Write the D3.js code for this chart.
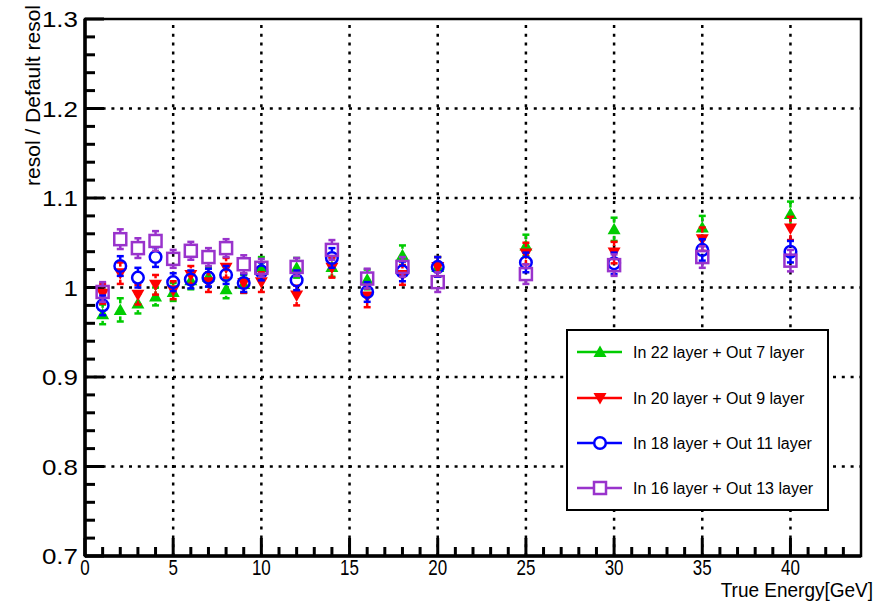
<!DOCTYPE html>
<html>
<head>
<meta charset="utf-8">
<script src="https://cdn.jsdelivr.net/npm/d3@7"></script>
<style>
  body { margin: 0; background: #fff; }
  svg { font-family: "Liberation Sans", Arial, Helvetica, sans-serif; }
</style>
</head>
<body>
<svg id="chart"></svg>
<script>
// energies (GeV)
let energies = [1, 2, 3, 4, 5, 6, 7, 8, 9, 10, 12, 14, 16, 18, 20, 25, 30, 35, 40];

// resol / default resol for each layer configuration
let in22 = [0.970, 0.975, 0.982, 0.990, 0.995, 1.008, 1.012, 0.998, 1.004, 1.023, 1.022, 1.023, 1.009, 1.036, 1.023, 1.047, 1.065, 1.067, 1.082];
let in20 = [0.993, 1.016, 0.992, 1.003, 0.997, 1.014, 1.006, 1.022, 1.005, 1.006, 0.991, 1.022, 0.990, 1.014, 1.023, 1.038, 1.039, 1.054, 1.066];
let in18 = [0.980, 1.024, 1.011, 1.034, 1.006, 1.009, 1.011, 1.014, 1.005, 1.018, 1.008, 1.033, 0.995, 1.018, 1.023, 1.028, 1.027, 1.042, 1.040];
let in16 = [0.995, 1.054, 1.044, 1.052, 1.032, 1.041, 1.034, 1.044, 1.026, 1.022, 1.023, 1.042, 1.010, 1.023, 1.006, 1.015, 1.025, 1.034, 1.030];

// errors
let err22 = [0.011, 0.013, 0.011, 0.010, 0.010, 0.010, 0.011, 0.010, 0.010, 0.011, 0.011, 0.011, 0.011, 0.011, 0.011, 0.012, 0.013, 0.013, 0.014];
let err20 = [0.011, 0.012, 0.011, 0.011, 0.010, 0.010, 0.011, 0.011, 0.011, 0.011, 0.011, 0.011, 0.012, 0.011, 0.011, 0.012, 0.012, 0.013, 0.013];
let err18 = [0.011, 0.011, 0.011, 0.011, 0.010, 0.010, 0.010, 0.010, 0.010, 0.010, 0.011, 0.011, 0.011, 0.011, 0.011, 0.011, 0.012, 0.012, 0.012];
let err16 = [0.011, 0.011, 0.011, 0.011, 0.010, 0.010, 0.010, 0.010, 0.010, 0.010, 0.010, 0.011, 0.011, 0.011, 0.011, 0.011, 0.012, 0.012, 0.012];

let names = ["In 22 layer + Out 7 layer", "In 20 layer + Out 9 layer", "In 18 layer + Out 11 layer", "In 16 layer + Out 13 layer"];
let colors = ["#00cc00", "#ff0000", "#0000ff", "#9933cc"];
let shapes = ["up", "down", "circle", "square"];

let xTicks = [0, 5, 10, 15, 20, 25, 30, 35, 40];
let yTicks = [0.7, 0.8, 0.9, 1.0, 1.1, 1.2, 1.3];

function makeChart() {
    let w = 879;
    let h = 603;
    let left = 85, right = 861, top = 19, bottom = 556;

    let svg = d3.select("#chart")
        .attr("width", w)
        .attr("height", h);

    let x = d3.scaleLinear().domain([0, 44]).range([left, right]);
    let y = d3.scaleLinear().domain([0.7, 1.3]).range([bottom, top]);

    // grid
    let grid = svg.append("g")
        .attr("stroke", "black")
        .attr("stroke-width", 2.5)
        .attr("stroke-dasharray", "3,5.8");
    grid.selectAll("line.vx")
        .data(xTicks.slice(1))
        .enter().append("line")
            .attr("x1", d => x(d)).attr("x2", d => x(d))
            .attr("y1", bottom).attr("y2", top);
    grid.selectAll("line.hy")
        .data(yTicks.slice(1, -1))
        .enter().append("line")
            .attr("x1", left).attr("x2", right)
            .attr("y1", d => y(d)).attr("y2", d => y(d));

    // frame
    svg.append("rect")
        .attr("x", left).attr("y", top)
        .attr("width", right - left).attr("height", bottom - top)
        .attr("fill", "none")
        .attr("stroke", "black")
        .attr("stroke-width", 2.5);

    // ticks (inside, ROOT style)
    let ticks = svg.append("g").attr("stroke", "black").attr("stroke-width", 3);
    ticks.selectAll("line.xt")
        .data(d3.range(0, 44))
        .enter().append("line")
            .attr("x1", d => x(d)).attr("x2", d => x(d))
            .attr("y1", bottom).attr("y2", d => bottom - (d % 5 === 0 ? 18 : 9));
    ticks.selectAll("line.yt")
        .data(d3.range(0, 31))
        .enter().append("line")
            .attr("y1", d => y(0.7 + d * 0.02)).attr("y2", d => y(0.7 + d * 0.02))
            .attr("x1", left).attr("x2", d => left + (d % 5 === 0 ? 19 : 10));
    svg.append("line")
        .attr("x1", left).attr("x2", left).attr("y1", top).attr("y2", bottom)
        .attr("stroke", "black").attr("stroke-width", 3.5);
    svg.append("line")
        .attr("x1", left).attr("x2", right).attr("y1", bottom).attr("y2", bottom)
        .attr("stroke", "black").attr("stroke-width", 3.5);

    // tick labels
    svg.append("g").selectAll("text")
        .data(xTicks)
        .enter().append("text")
            .attr("transform", d => "translate(" + x(d) + ",575) scale(0.85,1.1)")
            .attr("text-anchor", "middle")
            .attr("font-size", 20)
            .text(d => d);
    svg.append("g").selectAll("text")
        .data(yTicks)
        .enter().append("text")
            .attr("transform", d => "translate(78," + (y(d) + 8) + ") scale(1.18,1)")
            .attr("text-anchor", "end")
            .attr("font-size", 22)
            .text(d => d === 1 ? "1" : d.toFixed(1));

    // axis titles
    svg.append("text")
        .attr("transform", "translate(873,597) scale(1,1.05)")
        .attr("text-anchor", "end")
        .attr("font-size", 19)
        .text("True Energy[GeV]");
    svg.append("text")
        .attr("transform", "translate(40,5) rotate(-90)")
        .attr("text-anchor", "end")
        .attr("font-size", 21)
        .text("resol / Default resol");

    let series = [in22, in20, in18, in16];
    let errs = [err22, err20, err18, err16];
    let half = 6.5;

    function marker(g, shape, color) {
        if (shape === "up") {
            g.append("path").attr("d", "M0,-6.5L6.5,5L-6.5,5Z").attr("fill", color);
        } else if (shape === "down") {
            g.append("path").attr("d", "M0,6.5L6.5,-5L-6.5,-5Z").attr("fill", color);
        } else if (shape === "circle") {
            g.append("circle").attr("r", 5.8).attr("fill", "none")
                .attr("stroke", color).attr("stroke-width", 2.5);
        } else {
            g.append("rect").attr("x", -6).attr("y", -6).attr("width", 12).attr("height", 12)
                .attr("fill", "none").attr("stroke", color).attr("stroke-width", 2.5);
        }
    }

    series.forEach((vals, s) => {
        let g = svg.append("g");
        let pts = energies.map((e, i) => ({ e: e, v: vals[i], err: errs[s][i] }));
        let bars = g.append("g").attr("stroke", colors[s]).attr("stroke-width", 2.5);
        pts.forEach(p => {
            let cx = x(p.e), cy = y(p.v);
            let yt = y(p.v + p.err), yb = y(p.v - p.err);
            if (cy - half > yt) {
                bars.append("line").attr("x1", cx).attr("x2", cx).attr("y1", yt).attr("y2", cy - half);
            }
            if (cy + half < yb) {
                bars.append("line").attr("x1", cx).attr("x2", cx).attr("y1", cy + half).attr("y2", yb);
            }
            bars.append("line").attr("x1", cx - 3.5).attr("x2", cx + 3.5).attr("y1", yt).attr("y2", yt);
            bars.append("line").attr("x1", cx - 3.5).attr("x2", cx + 3.5).attr("y1", yb).attr("y2", yb);
        });
        g.selectAll("g.m")
            .data(pts)
            .enter().append("g")
                .attr("transform", d => "translate(" + x(d.e) + "," + y(d.v) + ")")
                .each(function() { marker(d3.select(this), shapes[s], colors[s]); });
    });

    // legend
    let lg = svg.append("g");
    lg.append("rect")
        .attr("x", 567).attr("y", 330)
        .attr("width", 261).attr("height", 180)
        .attr("fill", "white")
        .attr("stroke", "black")
        .attr("stroke-width", 2);
    let rows = [352, 398, 443, 488];
    names.forEach((n, i) => {
        lg.append("line")
            .attr("x1", 577).attr("x2", 622)
            .attr("y1", rows[i]).attr("y2", rows[i])
            .attr("stroke", colors[i]).attr("stroke-width", 2.5);
        let m = lg.append("g").attr("transform", "translate(600," + rows[i] + ")");
        if (shapes[i] === "circle") {
            m.append("circle").attr("r", 5.8).attr("fill", "white");
        } else if (shapes[i] === "square") {
            m.append("rect").attr("x", -6).attr("y", -6).attr("width", 12).attr("height", 12).attr("fill", "white");
        }
        marker(m, shapes[i], colors[i]);
        lg.append("text")
            .attr("x", 633).attr("y", rows[i] + 6)
            .attr("font-size", 16)
            .text(n);
    });
}

window.onload = function() {
    makeChart();
};
</script>
</body>
</html>
